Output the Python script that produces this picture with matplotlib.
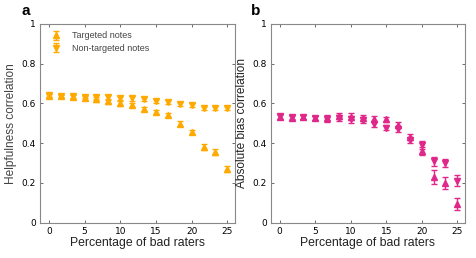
import numpy as np
import matplotlib
matplotlib.use("Agg")
import matplotlib.pyplot as plt

plt.rcParams['font.family'] = ['Liberation Sans', 'DejaVu Sans']

# fraction of bad raters (%)
pct = [0, 1.67, 3.33, 5, 6.67, 8.33, 10, 11.67, 13.33, 15, 16.67, 18.33, 20, 21.67, 23.33, 25]

# panel a: helpfulness correlation
help_targ = [0.640, 0.637, 0.632, 0.626, 0.620, 0.610, 0.601, 0.592, 0.574, 0.556, 0.541, 0.498, 0.456, 0.382, 0.356, 0.270]
help_targ_err = [0.008, 0.008, 0.010, 0.010, 0.012, 0.012, 0.012, 0.010, 0.010, 0.010, 0.010, 0.012, 0.012, 0.015, 0.015, 0.016]
help_non = [0.641, 0.638, 0.636, 0.635, 0.632, 0.630, 0.628, 0.625, 0.620, 0.612, 0.607, 0.596, 0.590, 0.579, 0.576, 0.575]
help_non_err = [0.008, 0.008, 0.010, 0.010, 0.012, 0.012, 0.012, 0.012, 0.010, 0.010, 0.010, 0.010, 0.010, 0.010, 0.010, 0.010]

# panel b: absolute bias correlation
bias_targ = [0.532, 0.528, 0.530, 0.527, 0.525, 0.535, 0.533, 0.525, 0.520, 0.520, 0.492, 0.432, 0.360, 0.228, 0.200, 0.095]
bias_targ_err = [0.012, 0.010, 0.010, 0.010, 0.015, 0.015, 0.018, 0.015, 0.015, 0.012, 0.015, 0.015, 0.020, 0.035, 0.030, 0.030]
bias_non = [0.535, 0.530, 0.530, 0.525, 0.520, 0.525, 0.520, 0.515, 0.495, 0.478, 0.472, 0.414, 0.392, 0.308, 0.302, 0.210]
bias_non_err = [0.012, 0.010, 0.010, 0.010, 0.015, 0.015, 0.018, 0.015, 0.015, 0.012, 0.015, 0.015, 0.020, 0.025, 0.020, 0.028]

ORANGE = '#FFAA00'
MAGENTA = '#E0288A'

fig = plt.figure(figsize=(4.76, 2.58), dpi=100)
ax_a = fig.add_axes([0.084, 0.137, 0.410, 0.770])
ax_b = fig.add_axes([0.569, 0.137, 0.408, 0.770])


def draw(ax, y1, e1, y2, e2, color):
    ax.errorbar(pct, y1, yerr=e1, fmt='^', color=color, ms=4.5, capsize=2.5,
                elinewidth=1, capthick=1, ecolor=color, label='Targeted notes')
    ax.errorbar(pct, y2, yerr=e2, fmt='v', color=color, ms=4.5, capsize=2.5,
                elinewidth=1, capthick=1, ecolor=color, label='Non-targeted notes')
    ax.set_xlim(-1.25, 26.1)
    ax.set_ylim(0, 1)
    ax.set_xticks([0, 5, 10, 15, 20, 25])
    ax.set_yticks([0, 0.2, 0.4, 0.6, 0.8, 1])
    ax.set_yticklabels(['0', '0.2', '0.4', '0.6', '0.8', '1'])
    ax.tick_params(direction='in', top=True, right=True, labelsize=6.5,
                   length=2.5, width=0.6, color='#555555', pad=3)
    for lbl in ax.get_xticklabels() + ax.get_yticklabels():
        lbl.set_family('DejaVu Sans')
    for s in ax.spines.values():
        s.set_color('#888888')
        s.set_linewidth(0.8)
    ax.set_xlabel('Percentage of bad raters', fontsize=8.8, labelpad=1, color='#222222')


draw(ax_a, help_targ, help_targ_err, help_non, help_non_err, ORANGE)
ax_a.set_ylabel('Helpfulness correlation', fontsize=8.6, labelpad=3, color='#444444')
leg = ax_a.legend(loc='upper left', fontsize=6.5, frameon=False, handletextpad=0.8,
                  borderaxespad=0.4, labelspacing=0.4)
for t in leg.get_texts():
    t.set_color('#444444')

draw(ax_b, bias_targ, bias_targ_err, bias_non, bias_non_err, MAGENTA)
ax_b.set_ylabel('Absolute bias correlation', fontsize=8.6, labelpad=3, color='#222222')

fig.text(0.046, 0.957, 'a', fontsize=11, fontweight='bold', va='center')
fig.text(0.527, 0.957, 'b', fontsize=11, fontweight='bold', va='center')

fig.savefig('out.png', dpi=100)
